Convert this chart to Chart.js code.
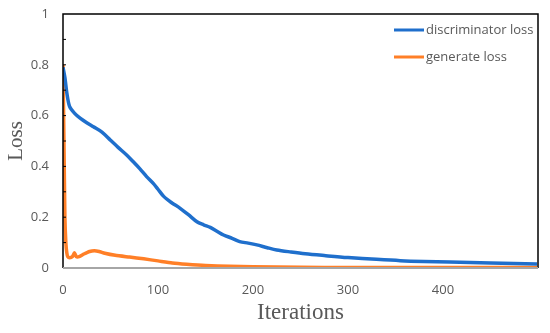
<!DOCTYPE html>
<html>
<head>
<meta charset="utf-8">
<script src="https://cdn.jsdelivr.net/npm/chart.js@4/dist/chart.umd.min.js"></script>
<style>
  html, body { margin: 0; padding: 0; background: #fff; }
  #wrap { width: 550px; height: 333px; }
</style>
</head>
<body>
<div id="wrap"><canvas id="lossChart" width="550" height="333"></canvas></div>
<script>
// values
const discIters = [0, 2, 4, 7, 12, 18, 25, 32, 41, 50, 58, 67, 74, 81, 88, 95, 100, 106, 114, 123, 132, 141, 148, 155, 162, 169, 178, 186, 195, 204, 215, 225, 240, 255, 275, 300, 330, 355, 380, 407, 450, 499];
const discLoss = [0.79, 0.75, 0.69, 0.635, 0.61, 0.59, 0.572, 0.556, 0.535, 0.503, 0.475, 0.445, 0.418, 0.39, 0.36, 0.333, 0.31, 0.282, 0.258, 0.236, 0.21, 0.182, 0.17, 0.16, 0.145, 0.13, 0.117, 0.104, 0.098, 0.091, 0.08, 0.071, 0.063, 0.056, 0.049, 0.041, 0.034, 0.029, 0.026, 0.024, 0.02, 0.016];

const genIters = [0, 1, 2, 3, 4, 5, 7, 10, 12, 14, 17, 22, 28, 33, 38, 44, 55, 70, 85, 100, 115, 130, 150, 175, 200, 250, 300, 400, 499];
const genLoss = [0.8, 0.5, 0.2, 0.1, 0.06, 0.045, 0.04, 0.045, 0.06, 0.045, 0.045, 0.055, 0.065, 0.068, 0.065, 0.058, 0.05, 0.043, 0.036, 0.028, 0.02, 0.015, 0.01, 0.007, 0.005, 0.003, 0.002, 0.002, 0.002];

const seriesLabels = ['discriminator loss', 'generate loss'];
const seriesColors = ['#1f6fcc', '#ff7f27'];

const toPoints = (xs, ys) => xs.map((x, i) => ({ x: x, y: ys[i] }));

const frame = {
  id: 'frame',
  afterDraw(chart) {
    const { ctx, chartArea: a, scales } = chart;
    ctx.save();
    ctx.lineWidth = 1.5;
    ctx.strokeStyle = '#000';
    ctx.beginPath();
    ctx.moveTo(a.left, a.bottom);
    ctx.lineTo(a.left, a.top);
    ctx.lineTo(a.right, a.top);
    ctx.lineTo(a.right, a.bottom);
    ctx.stroke();
    // small inward ticks on the left spine
    ctx.lineWidth = 1;
    for (let v = 1; v <= 9; v++) {
      const y = scales.y.getPixelForValue(v / 10);
      ctx.beginPath();
      ctx.moveTo(a.left, y);
      ctx.lineTo(a.left + 3, y);
      ctx.stroke();
    }
    ctx.strokeStyle = '#a6a6a6';
    ctx.lineWidth = 2;
    ctx.beginPath();
    ctx.moveTo(a.left, a.bottom);
    ctx.lineTo(a.right, a.bottom);
    ctx.stroke();

    // legend inside the plot, top right
    ctx.font = '13px "Open Sans", sans-serif';
    ctx.textBaseline = 'middle';
    ctx.fillStyle = '#595959';
    chart.data.datasets.forEach((ds, i) => {
      const y = a.top + 16 + i * 27;
      const x0 = a.left + 331;
      ctx.strokeStyle = ds.borderColor;
      ctx.lineWidth = 3;
      ctx.beginPath();
      ctx.moveTo(x0, y);
      ctx.lineTo(x0 + 30, y);
      ctx.stroke();
      ctx.fillText(ds.label, x0 + 32, y);
    });
    ctx.restore();
  }
};

new Chart(document.getElementById('lossChart'), {
  type: 'line',
  data: {
    datasets: [
      {
        label: seriesLabels[0],
        data: toPoints(discIters, discLoss),
        borderColor: seriesColors[0],
        borderWidth: 3.5,
        pointRadius: 0,
        tension: 0.3
      },
      {
        label: seriesLabels[1],
        data: toPoints(genIters, genLoss),
        borderColor: seriesColors[1],
        borderWidth: 3.5,
        pointRadius: 0,
        tension: 0.2
      }
    ]
  },
  options: {
    responsive: false,
    animation: false,
    layout: { padding: { top: 14, right: 12 } },
    plugins: { legend: { display: false }, tooltip: { enabled: false } },
    scales: {
      x: {
        type: 'linear',
        min: 0,
        max: 500,
        afterFit(scale) { scale.height = 65; },
        border: { display: false },
        grid: { display: false },
        ticks: {
          stepSize: 100,
          padding: 6,
          color: '#595959',
          font: { family: '"Open Sans", sans-serif', size: 13 },
          callback: (v) => (v === 500 ? '' : v)
        },
        title: {
          display: true,
          text: 'Iterations',
          color: '#595959',
          font: { family: '"Liberation Serif", serif', size: 23 },
          padding: { top: 4, bottom: 6 }
        }
      },
      y: {
        min: 0,
        max: 1,
        afterFit(scale) { scale.width = 63; },
        border: { display: false },
        grid: { display: false },
        ticks: {
          stepSize: 0.2,
          padding: 6,
          color: '#595959',
          font: { family: '"Open Sans", sans-serif', size: 13 },
          callback: (v) => String(Math.round(v * 10) / 10)
        },
        title: {
          display: true,
          text: 'Loss',
          color: '#595959',
          font: { family: '"Liberation Serif", serif', size: 21 },
          padding: { bottom: 0 }
        }
      }
    }
  },
  plugins: [frame]
});
</script>
</body>
</html>
